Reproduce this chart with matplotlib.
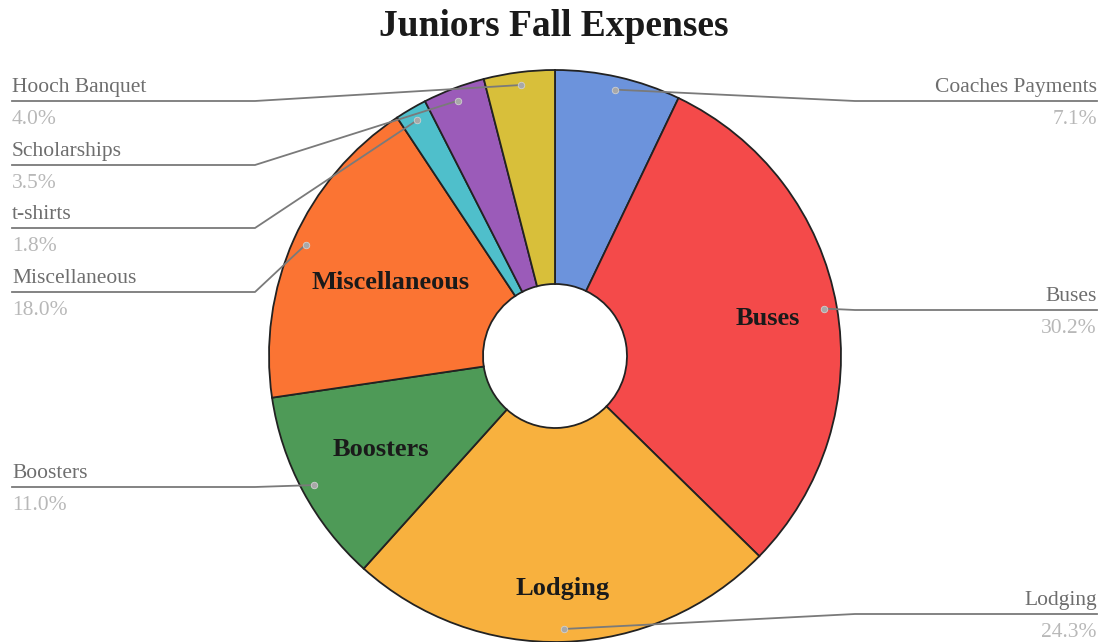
import numpy as np
import matplotlib.pyplot as plt

W, H = 1108, 642

CATEGORIES = ["Coaches Payments", "Buses", "Lodging", "Boosters",
              "Miscellaneous", "t-shirts", "Scholarships", "Hooch Banquet"]
SHARES = [7.1, 30.2, 24.3, 11.0, 18.0, 1.8, 3.5, 4.0]
COLORS = ["#6c93dc", "#f44a4a", "#f8b13e", "#4e9a57",
          "#fb7433", "#4fbfcb", "#9b5bb9", "#d8bf3a"]
TITLE = "Juniors Fall Expenses"

# labels drawn inside the ring, with radial position (fraction of radius)
INSIDE = {"Buses": 0.755, "Lodging": 0.815, "Boosters": 0.69, "Miscellaneous": 0.63}

# outer labels: side and height of the underline (px from top)
OUTER = {
    "Hooch Banquet": ("left", 101),
    "Scholarships": ("left", 165),
    "t-shirts": ("left", 228),
    "Miscellaneous": ("left", 292),
    "Boosters": ("left", 487),
    "Coaches Payments": ("right", 101),
    "Buses": ("right", 310),
    "Lodging": ("right", 614),
}

CX, CY, R, R_HOLE = 555, H - 356, 286, 72
FONT = "Liberation Serif"


def y(px):
    return H - px


def main():
    fig = plt.figure(figsize=(W / 100, H / 100), dpi=100)
    ax = fig.add_axes([0, 0, 1, 1])

    wedges, _ = ax.pie(
        SHARES, colors=COLORS, startangle=90, counterclock=False,
        radius=R, center=(CX, CY),
        wedgeprops=dict(width=R - R_HOLE, edgecolor="#222222", linewidth=1.3),
    )
    ax.set_xlim(0, W)
    ax.set_ylim(0, H)
    ax.set_aspect("equal")
    ax.axis("off")

    ax.text(W / 2, y(26), TITLE, ha="center", va="center", fontsize=27,
            fontweight="bold", family=FONT, color="#1a1a1a")

    for wedge, name, share in zip(wedges, CATEGORIES, SHARES):
        mid = np.deg2rad((wedge.theta1 + wedge.theta2) / 2)
        if name in INSIDE:
            rr = INSIDE[name] * R
            ax.text(CX + rr * np.cos(mid), CY + rr * np.sin(mid), name,
                    ha="center", va="center", fontsize=19, fontweight="bold",
                    family=FONT, color="#1a1a1a")

        side, line_px = OUTER[name]
        dx, dy = CX + 0.955 * R * np.cos(mid), CY + 0.955 * R * np.sin(mid)
        ly = y(line_px)
        if side == "left":
            elbow = min(CX - 300, dx)
            xs, end, ha = [dx, elbow, 12], 12, "left"
        else:
            elbow = max(CX + 300, dx)
            xs, end, ha = [dx, elbow, W - 11], W - 11, "right"
        ax.plot(xs, [dy, ly, ly], color="#7a7a7a", lw=1.3, zorder=3)
        ax.scatter([dx], [dy], s=22, color="#a8a8a8", edgecolor="#d0d0d0",
                   linewidth=0.6, zorder=4)
        ax.text(end, ly + 4, name, ha=ha, va="bottom", fontsize=15.5,
                family=FONT, color="#6e6e6e")
        ax.text(end, ly - 9, f"{share:.1f}%", ha=ha, va="top", fontsize=15.5,
                family=FONT, color="#b8b8b8")

    fig.savefig("out.png", dpi=100)


if __name__ == "__main__":
    main()
